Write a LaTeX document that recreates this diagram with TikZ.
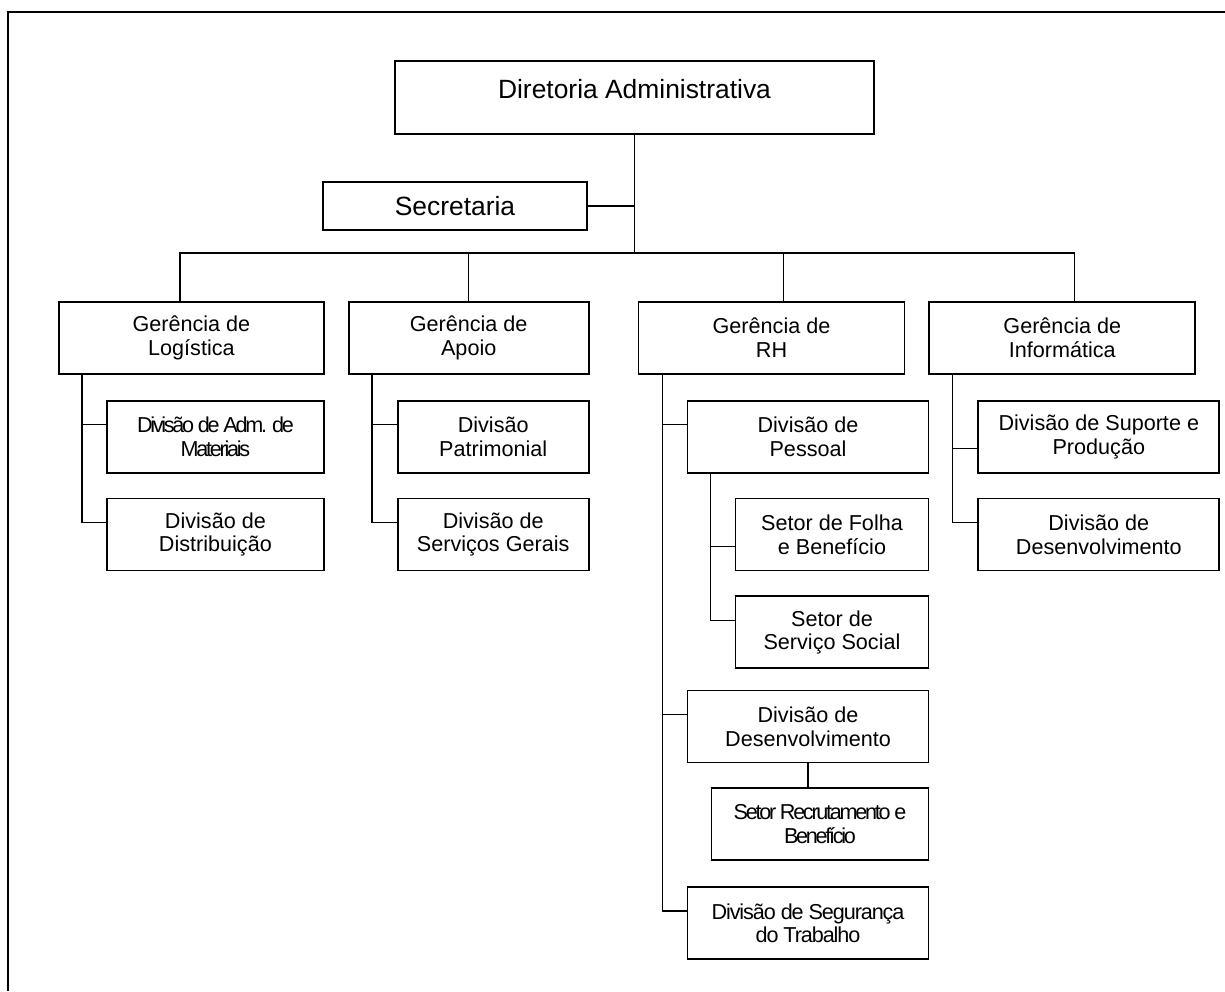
\documentclass[tikz,border=0pt]{standalone}
\usepackage{fontspec}
\setmainfont{Liberation Sans}
\usetikzlibrary{positioning}
\newcommand{\apertado}{\addfontfeatures{LetterSpace=-10.5}}
\newcommand{\meioapertado}{\addfontfeatures{LetterSpace=-5}}
\tikzset{
    %Define style for boxes
    caixa/.style={
           rectangle,
           draw=black, line width=0.9pt,
           minimum height=36pt,
           inner sep=0pt,
           align=center,
           font=\fontsize{10.8}{11.8}\selectfont},
    %Define style for the top boxes
    chefe/.style={
           caixa,
           font=\fontsize{13.2}{15.6}\selectfont},
    % Define line style
    ramo/.style={
           line width=0.7pt},
    moldura/.style={
           line width=1pt},
}
\begin{document}
\begin{tikzpicture}[x=0.5pt, y=-0.5pt, node distance=12pt]
 %frame
    \useasboundingbox (0,0) rectangle (1225,991);
    \draw[moldura] (1225,12) -| (8,991);
 %nodes
    \node[chefe, minimum width=239.5pt, minimum height=0pt, text height=18.5pt, text depth=18pt] (dir) at (634.5,97.5) {Diretoria Administrativa};
    \node[chefe, minimum width=132pt, minimum height=24pt] (sec) at (455,206) {Secretaria};
    \coordinate (barra) at (634.5,253);
    \node[caixa, minimum width=132.5pt, anchor=north west] (log) at (58,301) {Gerência de\\Logística};
    \node[caixa, minimum width=120pt, right=11.5pt of log] (apo) {Gerência de\\Apoio};
    \node[caixa, minimum width=133pt, right=24pt of apo] (rh) {Gerência de\\RH};
    \node[caixa, minimum width=133pt, right=11.5pt of rh] (inf) {Gerência de\\Informática};
    \node[caixa, minimum width=108.5pt, below right=12.5pt and 24pt of log.south west] (admmat) {\apertado Divisão de Adm. de\\\apertado Materiais};
    \node[caixa, minimum width=108.5pt, below right=12pt and 0pt of admmat.south west] (distr) {Divisão de\\Distribuição};
    \node[caixa, minimum width=95.5pt, below right=12.5pt and 24.5pt of apo.south west] (patr) {Divisão\\Patrimonial};
    \node[caixa, minimum width=95.5pt, below right=12pt and 0pt of patr.south west] (servg) {Divisão de\\Serviços Gerais};
    \node[caixa, minimum width=120.5pt, below right=12.5pt and 24.5pt of rh.south west] (pess) {Divisão de\\Pessoal};
    \node[caixa, minimum width=96.5pt, below right=12pt and 24pt of pess.south west] (folha) {Setor de Folha\\e Benefício};
    \node[caixa, minimum width=96.5pt, below right=12pt and 0pt of folha.south west] (social) {Setor de\\Serviço Social};
    \node[caixa, minimum width=120.5pt, below right=108pt and 0pt of pess.south west] (desrh) {Divisão de\\Desenvolvimento};
    \node[caixa, minimum width=108.5pt, below right=12pt and 12pt of desrh.south west] (recr) {\apertado Setor Recrutamento e\\\apertado Benefício};
    \node[caixa, minimum width=120.5pt, below right=12.5pt and -12pt of recr.south west] (segur) {\meioapertado Divisão de Segurança\\\meioapertado do Trabalho};
    \node[caixa, minimum width=120.5pt, below right=12.5pt and 24.5pt of inf.south west] (suporte) {Divisão de Suporte e\\Produção};
    \node[caixa, minimum width=120.5pt, below right=12pt and 0pt of suporte.south west] (desinf) {Divisão de\\Desenvolvimento};
 %edges
    \draw[ramo] (dir.south) -- (barra);
    \draw[ramo] (sec) -- (sec -| barra);
    \draw[ramo] ([xshift=-5.75pt]log.north) |- (barra) -| ([xshift=6pt]inf.north);
    \draw[ramo] (apo) -- (apo |- barra);
    \draw[ramo] ([xshift=6pt]rh.north) |- (barra);
    \draw[ramo] ([xshift=12pt]log.south west) |- ([yshift=6pt]admmat.west);
    \draw[ramo] ([xshift=12pt]log.south west) |- ([yshift=6pt]distr.west);
    \draw[ramo] ([xshift=12pt]apo.south west) |- ([yshift=6pt]patr.west);
    \draw[ramo] ([xshift=12pt]apo.south west) |- ([yshift=6pt]servg.west);
    \draw[ramo] ([xshift=12.5pt]rh.south west) |- ([yshift=6pt]pess.west);
    \draw[ramo] ([xshift=12.5pt]rh.south west) |- ([yshift=6pt]desrh.west);
    \draw[ramo] ([xshift=12.5pt]rh.south west) |- ([yshift=6pt]segur.west);
    \draw[ramo] ([xshift=12pt]pess.south west) |- ([yshift=-6pt]folha.west);
    \draw[ramo] ([xshift=12pt]pess.south west) |- ([yshift=6pt]social.west);
    \draw[ramo] (desrh) -- (desrh |- recr.north);
    \draw[ramo] ([xshift=12pt]inf.south west) |- ([yshift=-6pt]suporte.west);
    \draw[ramo] ([xshift=12pt]inf.south west) |- ([yshift=6pt]desinf.west);
\end{tikzpicture}
\end{document}
